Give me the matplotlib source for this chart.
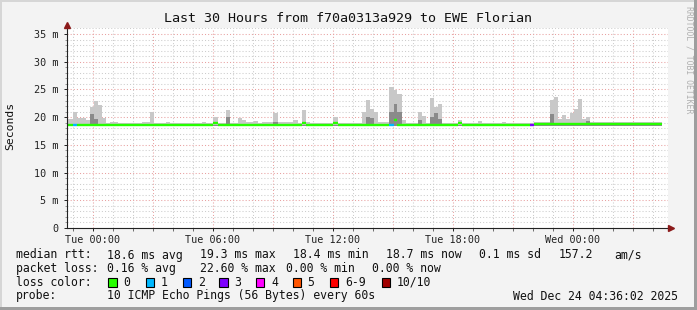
import matplotlib
matplotlib.use('Agg')
import matplotlib.pyplot as plt
from matplotlib.patches import Rectangle

# segment start (hours since Tue 00:00), smoke top, darker smoke top, median, loss class
seg_start = [-1.30, -1.00, -0.80, -0.35, -0.15, 0.05, 0.25, 0.45, 0.65, 0.85,
             1.25, 1.65, 2.45, 2.85, 3.05, 3.65, 3.85, 5.45, 5.65, 6.00,
             6.25, 6.65, 6.85, 7.25, 7.45, 7.65, 8.05, 8.25, 8.45, 9.00,
             9.25, 10.00, 10.25, 10.45, 10.65, 10.85, 12.00, 12.25, 13.45, 13.65,
             13.85, 14.05, 14.25, 14.80, 15.05, 15.20, 15.45, 15.65, 16.25, 16.45,
             16.65, 16.85, 17.05, 17.25, 17.45, 18.25, 18.45, 19.25, 19.45, 20.45,
             20.65, 21.85, 22.05, 22.85, 23.05, 23.25, 23.45, 23.65, 23.85, 24.05,
             24.25, 24.45, 24.65, 24.85]
seg_end = 28.45
smoke_top = [19.7, 21.0, 19.8, 19.5, 21.8, 23.0, 22.2, 19.8, 18.9, 19.2,
             18.9, 19.0, 19.1, 21.0, 18.9, 19.2, 18.9, 19.2, 18.9, 20.1,
             18.9, 21.3, 18.9, 19.8, 19.5, 19.2, 19.3, 19.0, 19.2, 20.7,
             19.2, 19.5, 19.0, 21.3, 19.2, 18.9, 20.1, 19.0, 21.0, 23.1,
             21.4, 21.0, 19.1, 25.5, 24.9, 24.2, 19.5, 19.0, 21.0, 20.2,
             19.0, 23.5, 21.8, 22.3, 19.0, 19.5, 18.9, 19.3, 18.9, 19.2,
             18.9, 18.9, 19.2, 23.1, 23.6, 19.6, 20.3, 19.6, 20.8, 21.4,
             23.3, 19.6, 20.0, 19.1]
smoke_mid = [18.6, 18.6, 18.6, 18.6, 20.5, 19.6, 18.6, 18.6, 18.6, 18.6,
             18.6, 18.6, 18.6, 18.6, 18.6, 18.6, 18.6, 18.6, 18.6, 18.6,
             18.6, 20.0, 18.6, 18.6, 18.6, 18.6, 18.6, 18.6, 18.6, 19.2,
             18.6, 18.6, 18.6, 18.6, 18.6, 18.6, 18.6, 18.6, 18.6, 20.0,
             19.8, 18.6, 18.6, 20.9, 22.4, 21.0, 18.6, 18.6, 19.5, 18.6,
             18.6, 20.0, 20.8, 19.6, 18.6, 18.6, 18.6, 18.6, 18.6, 18.6,
             18.6, 18.6, 18.8, 20.5, 18.8, 18.8, 18.8, 18.8, 18.8, 18.8,
             18.8, 18.8, 19.3, 18.8]
median = [18.6, 18.6, 18.6, 18.6, 18.6, 18.6, 18.6, 18.6, 18.6, 18.6,
          18.6, 18.6, 18.6, 18.6, 18.6, 18.6, 18.6, 18.6, 18.6, 19.0,
          18.6, 18.6, 18.6, 18.6, 18.6, 18.6, 18.6, 18.6, 18.6, 18.6,
          18.6, 18.6, 18.6, 18.9, 18.6, 18.6, 19.0, 18.6, 18.6, 18.6,
          18.6, 18.6, 18.6, 18.6, 19.4, 18.6, 18.6, 18.6, 18.6, 18.6,
          18.6, 18.6, 18.6, 18.6, 18.6, 19.0, 18.6, 18.6, 18.6, 18.6,
          18.6, 18.6, 18.75, 18.75, 18.75, 18.75, 18.75, 18.75, 18.75, 18.75,
          18.75, 18.75, 18.75, 18.75]
loss = [0, 1, 0, 0, 0, 0, 0, 0, 0, 0, 0, 0, 0, 0, 0, 0, 0, 0, 0, 0,
        0, 0, 0, 0, 0, 0, 0, 0, 0, 0, 0, 0, 0, 0, 0, 0, 0, 0, 0, 0,
        0, 0, 0, 1, 0, 0, 0, 0, 0, 0, 0, 0, 0, 0, 0, 0, 0, 0, 0, 0,
        0, 3, 0, 0, 0, 0, 0, 0, 0, 0, 0, 0, 0, 0]
smoke_min = 18.4

loss_labels = ['0', '1', '2', '3', '4', '5', '6-9', '10/10']
loss_colors = ['#26ff00', '#00b8ff', '#0059ff', '#7e00ff', '#ff00ff', '#ff5500', '#ff0000', '#a10000']

tick_hours = [0, 6, 12, 18, 24]
tick_names = ['Tue 00:00', 'Tue 06:00', 'Tue 12:00', 'Tue 18:00', 'Wed 00:00']
y_ticks = [0, 5, 10, 15, 20, 25, 30, 35]
y_names = ['0', '5 m', '10 m', '15 m', '20 m', '25 m', '30 m', '35 m']

W, H = 697, 310
mono = 'DejaVu Sans Mono'
plt.rcParams['font.family'] = mono

fig = plt.figure(figsize=(W / 100, H / 100), dpi=100, facecolor='#f3f3f3')
ax = fig.add_axes([67 / W, 1 - 228 / H, 601 / W, 200 / H], facecolor='white')
x0, x1 = -1.30, 28.75
ymax = 200 / (194 / 35)
ax.set_xlim(x0, x1); ax.set_ylim(0, ymax)

# grid
for h in range(-1, 29):
    major = h % 3 == 0
    ax.axvline(h, color='#e8a0a0' if major else '#cccccc', lw=0.75, ls=(0, (1, 2)), zorder=1)
for v in range(1, 37):
    major = v % 5 == 0
    ax.axhline(v, color='#e8a0a0' if major else '#cccccc', lw=0.75, ls=(0, (1, 2)), zorder=1)

# smoke
edges = seg_start + [seg_end]
ax.fill_between(edges, smoke_min, smoke_top + [smoke_top[-1]], step='post', color='#c8c8c8', lw=0, zorder=2)
ax.fill_between(edges, smoke_min, smoke_mid + [smoke_mid[-1]], step='post', color='#8a8a8a', lw=0, zorder=3)

# median line coloured by loss
for i, s in enumerate(seg_start):
    e = edges[i + 1]
    ax.plot([s, e], [median[i], median[i]], color=loss_colors[loss[i]], lw=1.7,
            solid_capstyle='butt', zorder=4)

# axes
for sp in ax.spines.values():
    sp.set_visible(False)
ax.plot([x0, (673 - 93) / 20], [0, 0], color='#222222', lw=0.8, clip_on=False, zorder=5)
ax.plot([x0, x0], [0, (228 - 25) / (194 / 35)], color='#222222', lw=0.8, clip_on=False, zorder=5)
ax.plot([(671 - 93) / 20], [0], marker='>', color='#8b1a1a', ms=4.5, clip_on=False, zorder=6)
ax.plot([x0], [(228 - 25) / (194 / 35)], marker='^', color='#8b1a1a', ms=4.5, clip_on=False, zorder=6)

ax.set_xticks(tick_hours, tick_names)
ax.set_xticks(range(-1, 29), minor=True)
ax.set_yticks(y_ticks, y_names)
ax.set_yticks(range(0, 37), minor=True)
ax.tick_params(axis='x', which='major', length=2.5, width=0.7, pad=2.2, labelsize=7.3, colors='#222222')
ax.tick_params(axis='x', which='minor', length=1.8, width=0.6, colors='#555555')
ax.tick_params(axis='y', which='major', length=2.5, width=0.7, pad=3.5, labelsize=7.3, colors='#222222')
ax.tick_params(axis='y', which='minor', length=1.5, width=0.6, colors='#888888')

def ftext(x, y, s, **kw):
    fig.text(x / W, 1 - y / H, s, **kw)

ftext(348, 19, 'Last 30 Hours from f70a0313a929 to EWE Florian', ha='center', va='center', fontsize=9.6, color='#111111')
ftext(10.5, 126, 'Seconds', rotation=90, ha='center', va='center', fontsize=8.2, color='#111111')
ftext(688.5, 60, 'RRDTOOL / TOBI OETIKER', rotation=270, ha='center', va='center', fontsize=5.9, color='#b0b0b0')

fs = 8.3
c = '#111111'
row1 = [(16, 'median rtt:'), (107.3, '18.6 ms avg'), (200, '19.3 ms max'), (293.3, '18.4 ms min'),
        (386, '18.7 ms now'), (479.3, '0.1 ms sd'), (558.3, '157.2'), (614.3, 'am/s')]
row2 = [(16, 'packet loss:'), (107.3, '0.16 % avg'), (200, '22.60 % max'), (286, '0.00 % min'),
        (372.3, '0.00 % now')]
for x, s in row1:
    ftext(x, 255, s, ha='left', va='center', fontsize=fs, color=c)
for x, s in row2:
    ftext(x, 268.5, s, ha='left', va='center', fontsize=fs, color=c)
ftext(16, 282, 'loss color:', ha='left', va='center', fontsize=fs, color=c)
box_x = [108.3, 145.7, 182.7, 219.3, 256, 292.7, 330, 381.7]
for bx, lab, col in zip(box_x, loss_labels, loss_colors):
    fig.add_artist(Rectangle((bx / W, 1 - 286.7 / H), 8.3 / W, 8.3 / H, transform=fig.transFigure,
                             facecolor=col, edgecolor='black', lw=0.8))
    ftext(bx + 15, 282, lab, ha='left', va='center', fontsize=fs, color=c)
ftext(16, 296, 'probe:', ha='left', va='center', fontsize=fs, color=c)
ftext(107.3, 296, '10 ICMP Echo Pings (56 Bytes) every 60s', ha='left', va='center', fontsize=fs, color=c)
ftext(512.7, 296, 'Wed Dec 24 04:36:02 2025', ha='left', va='center', fontsize=fs, color=c)

# frame
fig.add_artist(Rectangle((0, 1 - 2 / H), 1, 2 / H, transform=fig.transFigure, color='#d6d6d6', lw=0))
fig.add_artist(Rectangle((0, 0), 2 / W, 1, transform=fig.transFigure, color='#d6d6d6', lw=0))
fig.add_artist(Rectangle((0, 0), 1, 3 / H, transform=fig.transFigure, color='#9e9e9e', lw=0))
fig.add_artist(Rectangle((1 - 3 / W, 0), 3 / W, 1, transform=fig.transFigure, color='#9e9e9e', lw=0))

fig.savefig('out.png', dpi=100, facecolor=fig.get_facecolor())
